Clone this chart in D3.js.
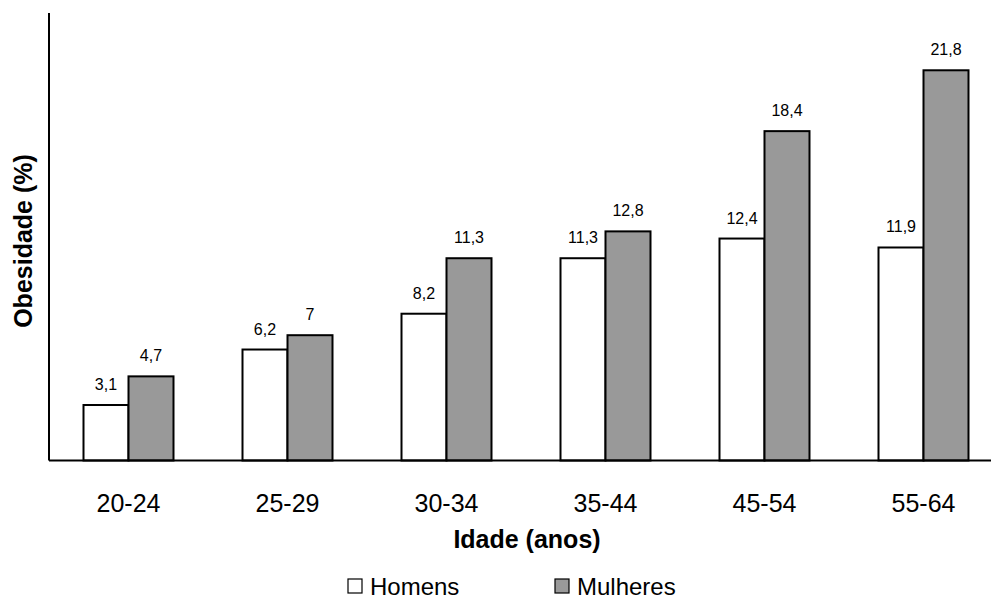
<!DOCTYPE html>
<html>
<head>
<meta charset="utf-8">
<script src="https://cdn.jsdelivr.net/npm/d3@7"></script>
<style>
  html, body { margin: 0; padding: 0; background: #fff; }
  svg { display: block; font-family: "Liberation Sans", Arial, sans-serif; }
</style>
</head>
<body>
<svg id="chart" width="991" height="599"></svg>
<script>
// Faixas etárias e prevalência de obesidade (%) por sexo
const categories = ["20-24", "25-29", "30-34", "35-44", "45-54", "55-64"];
const series = ["Homens", "Mulheres"];
const homens = [3.1, 6.2, 8.2, 11.3, 12.4, 11.9];
const mulheres = [4.7, 7, 11.3, 12.8, 18.4, 21.8];
const valueLabelsHomens = ["3,1", "6,2", "8,2", "11,3", "12,4", "11,9"];
const valueLabelsMulheres = ["4,7", "7", "11,3", "12,8", "18,4", "21,8"];

const fills = { "Homens": "#ffffff", "Mulheres": "#999999" };

const svg = d3.select("#chart");
const W = 991;
const left = 49, baseY = 460.5, topY = 13;

const x = d3.scaleBand()
  .domain(categories)
  .range([left, left + 954])
  .paddingInner(0.434)
  .paddingOuter(0.217);

const xs = d3.scaleBand()
  .domain(series)
  .range([0, x.bandwidth()]);

const y = d3.scaleLinear().domain([0, 25]).range([baseY, topY]);

const data = categories.map((c, i) => ({
  cat: c,
  vals: [
    { s: "Homens", v: homens[i], label: valueLabelsHomens[i] },
    { s: "Mulheres", v: mulheres[i], label: valueLabelsMulheres[i] }
  ]
}));

const groups = svg.append("g").selectAll("g")
  .data(data).join("g")
  .attr("transform", d => `translate(${x(d.cat)},0)`);

groups.selectAll("rect")
  .data(d => d.vals).join("rect")
  .attr("x", d => xs(d.s))
  .attr("y", d => y(d.v))
  .attr("width", xs.bandwidth())
  .attr("height", d => baseY - y(d.v))
  .attr("fill", d => fills[d.s])
  .attr("stroke", "#000")
  .attr("stroke-width", 2);

groups.selectAll("text.val")
  .data(d => d.vals).join("text")
  .attr("class", "val")
  .attr("x", d => xs(d.s) + xs.bandwidth() / 2)
  .attr("y", d => y(d.v) - 15)
  .attr("text-anchor", "middle")
  .attr("font-size", 16)
  .attr("fill", "#000")
  .text(d => d.label);

// Eixos
const xAxis = d3.axisBottom(x).tickSize(0).tickPadding(0);
const gx = svg.append("g")
  .attr("transform", `translate(0,${baseY})`)
  .call(xAxis);
gx.select(".domain").remove();
gx.selectAll("text")
  .attr("font-size", 25)
  .attr("font-family", "Liberation Sans, Arial, sans-serif")
  .attr("fill", "#000")
  .attr("dy", null)
  .attr("y", 51);

svg.append("line")
  .attr("x1", left).attr("x2", W)
  .attr("y1", baseY).attr("y2", baseY)
  .attr("stroke", "#000").attr("stroke-width", 2);

const yAxis = d3.axisLeft(y).tickValues([]).tickSizeOuter(0);
const gy = svg.append("g")
  .attr("transform", `translate(${left},0)`)
  .call(yAxis);
gy.select(".domain").attr("stroke", "#000").attr("stroke-width", 2)
  .attr("d", `M0,${topY}V${baseY}`);

// Títulos dos eixos
svg.append("text")
  .attr("x", 527).attr("y", 548)
  .attr("text-anchor", "middle")
  .attr("font-size", 25).attr("font-weight", "bold")
  .text("Idade (anos)");

svg.append("text")
  .attr("transform", "translate(32,241) rotate(-90)")
  .attr("text-anchor", "middle")
  .attr("font-size", 25).attr("font-weight", "bold")
  .text("Obesidade (%)");

// Legenda
const legend = svg.append("g");
const legendItems = [
  { s: "Homens", x: 348 },
  { s: "Mulheres", x: 555 }
];
legendItems.forEach(it => {
  legend.append("rect")
    .attr("x", it.x).attr("y", 579)
    .attr("width", 14).attr("height", 14)
    .attr("fill", fills[it.s])
    .attr("stroke", "#000").attr("stroke-width", 1.2);
  legend.append("text")
    .attr("x", it.x + 22).attr("y", 595)
    .attr("font-size", 24)
    .text(it.s);
});
</script>
</body>
</html>
